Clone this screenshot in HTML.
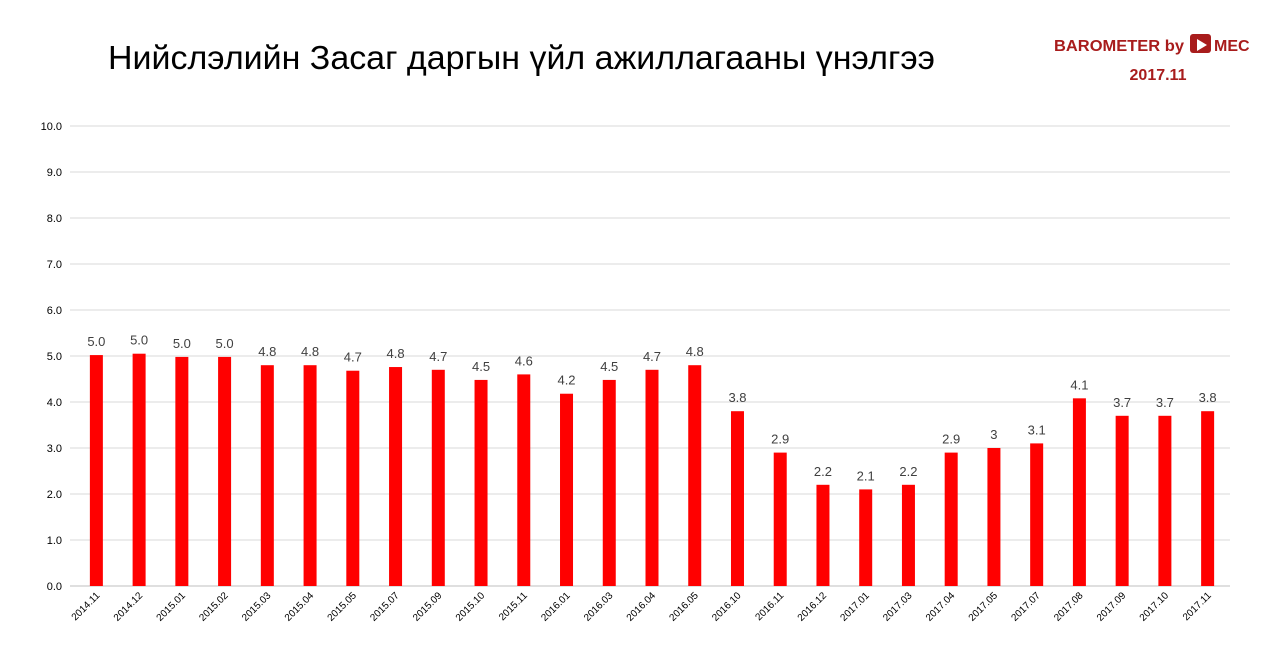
<!DOCTYPE html>
<html><head><meta charset="utf-8"><style>
body{margin:0;background:#fff;font-family:"Liberation Sans","DejaVu Sans",sans-serif}
</style></head><body>
<svg id="c" width="1272" height="653" xmlns="http://www.w3.org/2000/svg">
<text x="108" y="69" font-size="33.5" fill="#000" font-family="Liberation Sans, DejaVu Sans, sans-serif" textLength="827" lengthAdjust="spacingAndGlyphs">Нийслэлийн Засаг даргын үйл ажиллагааны үнэлгээ</text>
<text x="1054" y="51" font-size="16" font-weight="bold" fill="#a81c1c" textLength="130" lengthAdjust="spacingAndGlyphs">BAROMETER by</text>
<g><rect x="1190" y="34" width="21" height="19" rx="3" fill="#a81c1c"/><path d="M1197 39 l10 6 l-10 6z" fill="#fff"/></g>
<text x="1214" y="51" font-size="16" font-weight="bold" fill="#a81c1c">MEC</text>
<text x="1158" y="80" font-size="16" font-weight="bold" fill="#a81c1c" text-anchor="middle">2017.11</text>
<g id="grid"></g><g id="bars"></g><g id="labels"></g><g id="xt"></g>
</svg>
<script>
const categories=["2014.11","2014.12","2015.01","2015.02","2015.03","2015.04","2015.05","2015.07","2015.09","2015.10","2015.11","2016.01","2016.03","2016.04","2016.05","2016.10","2016.11","2016.12","2017.01","2017.03","2017.04","2017.05","2017.07","2017.08","2017.09","2017.10","2017.11"];
const values=[5.02,5.05,4.98,4.98,4.8,4.8,4.68,4.76,4.7,4.48,4.6,4.18,4.48,4.7,4.8,3.8,2.9,2.2,2.1,2.2,2.9,3.0,3.1,4.08,3.7,3.7,3.8];
const valueLabels=["5.0","5.0","5.0","5.0","4.8","4.8","4.7","4.8","4.7","4.5","4.6","4.2","4.5","4.7","4.8","3.8","2.9","2.2","2.1","2.2","2.9","3","3.1","4.1","3.7","3.7","3.8"];
const yTicks=[0,1,2,3,4,5,6,7,8,9,10];
const NS="http://www.w3.org/2000/svg";
const gx0=70,x0=75,x1=1229,yBase=586,yTop=126;
const y=v=>yBase-(v/10)*(yBase-yTop);
const step=(x1-x0)/categories.length;
const xc=i=>x0+step*(i+0.5);
function mk(t,a,p){const e=document.createElementNS(NS,t);for(const k in a)e.setAttribute(k,a[k]);p.appendChild(e);return e;}
const G=document.getElementById('grid'),B=document.getElementById('bars'),L=document.getElementById('labels'),X=document.getElementById('xt');
yTicks.forEach(t=>{
const l=mk('line',{x1:gx0,x2:1230,y1:y(t),y2:y(t),stroke:t===0?'#bfbfbf':'#d9d9d9','stroke-width':1},G);


const tx=mk('text',{x:62,y:y(t)+4,'font-size':11,'text-anchor':'end',fill:'#000'},G);
tx.textContent=t.toFixed(1);


});
categories.forEach((c,i)=>{
const r=mk('rect',{x:xc(i)-6.5,y:y(values[i]),width:13,height:yBase-y(values[i]),fill:'#ff0000'},B);


const t=mk('text',{x:xc(i),y:y(values[i])-9,'font-size':13,'text-anchor':'middle',fill:'#404040'},L);
t.textContent=valueLabels[i];


const xt=mk('text',{x:0,y:0,'font-size':10,'text-anchor':'end',fill:'#000',transform:`translate(${xc(i)+4},${yBase+10}) rotate(-45)`},X);
xt.textContent=c;


});
</script>
</body></html>
